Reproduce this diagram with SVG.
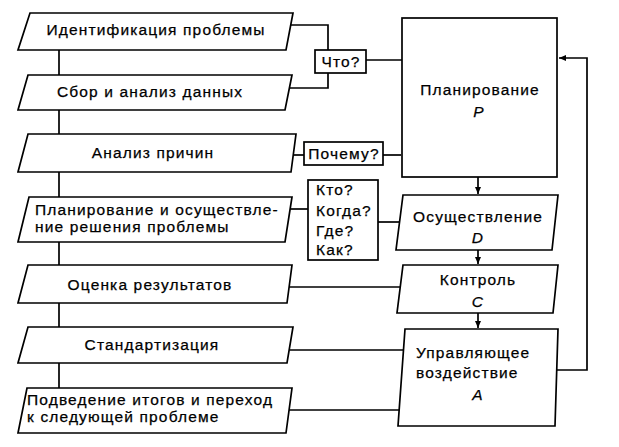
<svg xmlns="http://www.w3.org/2000/svg" width="619" height="447" viewBox="0 0 619 447">
<defs>
<style>
.s{fill:#fff;stroke:#000;stroke-width:1.7}
.l{fill:none;stroke:#000;stroke-width:1.7}
text{font-family:"Liberation Sans",Arial,sans-serif;font-size:15.5px;letter-spacing:1.15px;fill:#000;stroke:#000;stroke-width:0.25}
.c{text-anchor:middle}
.i{font-style:italic}
</style>
<marker id="ah" markerWidth="8" markerHeight="8" refX="7" refY="4" orient="auto" markerUnits="userSpaceOnUse">
<path d="M0,1 L7,4 L0,7 Z" fill="#000"/>
</marker>
</defs>
<rect width="619" height="447" fill="#fff"/>
<g id="connectors">
<path class="l" d="M59,49 V388"/>
<path class="l" d="M290,25 H328 V88 H287"/>
<path class="l" d="M366,60 H403"/>
<path class="l" d="M293,155 H304"/>
<path class="l" d="M383,155 H401"/>
<path class="l" d="M288,209 H308"/>
<path class="l" d="M378,222 H399"/>
<path class="l" d="M289,287 H400"/>
<path class="l" d="M290,350 H403"/>
<path class="l" d="M287,410 H400"/>
<path class="l" d="M478,177 V194" marker-end="url(#ah)"/>
<path class="l" d="M478,250 V264" marker-end="url(#ah)"/>
<path class="l" d="M478,313 V328" marker-end="url(#ah)"/>
<path class="l" d="M556,370 H587 V58 H559" marker-end="url(#ah)"/>
</g>
<g id="n1"><path class="s" d="M30,13 H293 L286,50 H18 Z"/><text class="c" x="156" y="35">Идентификация проблемы</text></g>
<g id="n2"><path class="s" d="M28,75 H292 L285,110 H18 Z"/><text class="c" x="150" y="97">Сбор и анализ данных</text></g>
<g id="n3"><path class="s" d="M28,134 H296 L291,172 H18 Z"/><text class="c" x="153" y="158">Анализ причин</text></g>
<g id="n4"><path class="s" d="M29,197 H292 L285,242 H18 Z"/><text x="35" y="215">Планирование и осуществле-</text><text x="35" y="232">ние решения проблемы</text></g>
<g id="n5"><path class="s" d="M28,265 H292 L287,303 H18 Z"/><text class="c" x="150" y="290">Оценка результатов</text></g>
<g id="n6"><path class="s" d="M28,327 H293 L287,363 H18 Z"/><text class="c" x="152" y="350">Стандартизация</text></g>
<g id="n7"><path class="s" d="M27,388 H292 L286,433 H18 Z"/><text x="27" y="405">Подведение итогов и переход</text><text x="27" y="422">к следующей проблеме</text></g>
<g id="q1"><rect class="s" x="315" y="50" width="51" height="23"/><text class="c" x="341" y="67">Что?</text></g>
<g id="q2"><rect class="s" x="304" y="142" width="79" height="23"/><text class="c" x="344" y="159">Почему?</text></g>
<g id="q3"><rect class="s" x="308" y="180" width="70" height="80"/><text x="316" y="195">Кто?</text><text x="316" y="216">Когда?</text><text x="316" y="236">Где?</text><text x="316" y="255">Как?</text></g>
<g id="P"><rect class="s" x="402" y="18" width="155" height="159"/><text class="c" x="480" y="95">Планирование</text><text class="c i" x="479" y="117">P</text></g>
<g id="D"><path class="s" d="M403,195 H558 L552,250 H396 Z"/><text class="c" x="478" y="222">Осуществление</text><text class="c i" x="478" y="243">D</text></g>
<g id="C"><path class="s" d="M403,265 H558 L553,313 H397 Z"/><text class="c" x="478" y="285">Контроль</text><text class="c i" x="478" y="307">C</text></g>
<g id="A"><path class="s" d="M405,329 H558 L555,426 H398 Z"/><text x="416" y="358">Управляющее</text><text x="416" y="378">воздействие</text><text class="c i" x="478" y="400">A</text></g>
</svg>
